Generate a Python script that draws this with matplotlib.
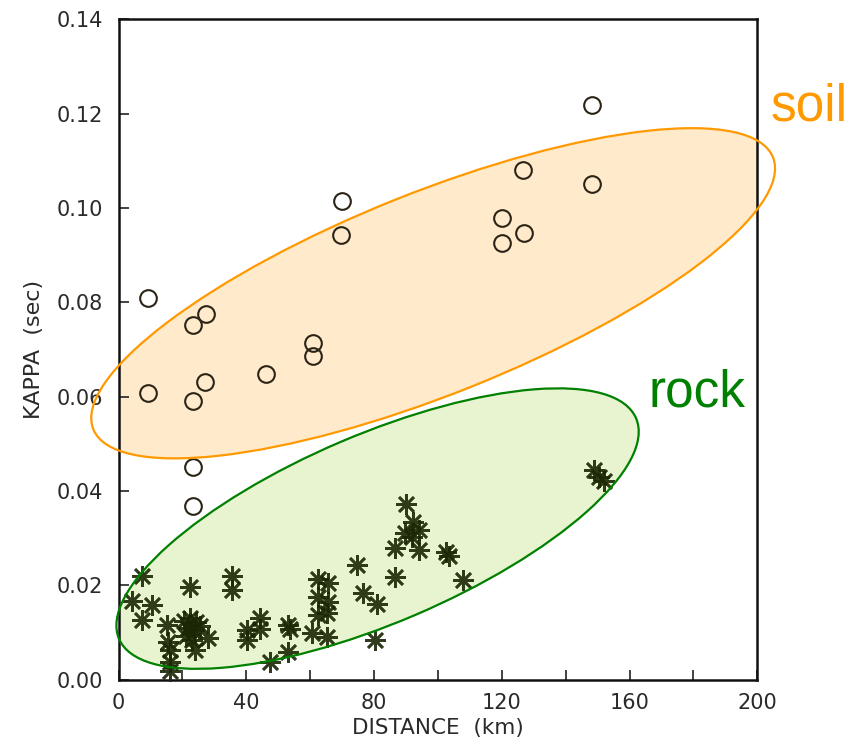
"""
kappa vs distance, soil and rock sites with grouping ellipses
"""
import matplotlib
matplotlib.use("Agg")
import matplotlib.pyplot as plt
from matplotlib.patches import Ellipse
from matplotlib.transforms import Affine2D

# soil sites (open circles)
soil_dist = [9.3, 9.1, 23.4, 27.4, 23.4, 27.2, 23.4, 23.4, 46.1, 60.8, 60.8,
             70.0, 69.7, 120.0, 120.0, 126.7, 127.0, 148.2, 148.2]
soil_kappa = [0.0808, 0.0608, 0.0751, 0.0774, 0.0591, 0.0631, 0.0451, 0.0368,
              0.0647, 0.0714, 0.0685, 0.1014, 0.0942, 0.0979, 0.0926, 0.1081,
              0.0947, 0.1219, 0.1050]

# rock sites (asterisks)
rock_dist = [4.1, 7.3, 10.4, 7.3, 15.1, 15.6, 16.1, 16.1, 16.1, 22.4,
             20.5, 22.4, 24.3, 21.8, 23.6, 25.5, 21.1, 23.0, 24.0, 28.1,
             35.4, 35.4, 40.1, 40.1, 44.3, 44.3, 47.4, 53.0, 53.6, 53.2,
             62.6, 65.7, 62.6, 65.7, 62.6, 65.2, 60.5, 65.2, 74.6, 76.6,
             80.8, 80.3, 86.6, 86.6, 90.0, 92.1, 94.2, 89.7, 91.8, 94.2,
             102.4, 103.6, 107.9, 148.9, 150.4, 152.0]
rock_kappa = [0.0167, 0.0219, 0.0158, 0.0126, 0.0115, 0.0080, 0.0063, 0.0038,
              0.0017, 0.0197, 0.0124, 0.0130, 0.0122, 0.0109, 0.0105, 0.0113,
              0.0092, 0.0084, 0.0063, 0.0087, 0.0219, 0.0190, 0.0105, 0.0084,
              0.0130, 0.0108, 0.0038, 0.0116, 0.0108, 0.0059, 0.0214, 0.0204,
              0.0175, 0.0165, 0.0137, 0.0140, 0.0098, 0.0091, 0.0243, 0.0183,
              0.0161, 0.0084, 0.0278, 0.0218, 0.0373, 0.0334, 0.0317, 0.0310,
              0.0303, 0.0274, 0.0270, 0.0262, 0.0212, 0.0444, 0.0429, 0.0421]

# group outlines: centre (km, sec), semi axes (km on screen), tilt (deg)
soil_group = dict(center=(98.5, 0.0819), a=114.6, b=31.6, angle=21.8)
rock_group = dict(center=(81.1, 0.0320), a=88.0, b=29.5, angle=23.1)

fig = plt.figure(figsize=(8.54, 7.53), dpi=100)
ax_rect = [0.1388, 0.0976, 0.748, 0.8768]
ax = fig.add_axes(ax_rect)
ax.set_xlim(0, 200)
ax.set_ylim(0, 0.14)

# km per unit of kappa on screen, so the ellipses come out undistorted
fw, fh = fig.get_size_inches()
k = (ax_rect[3] * fh / 0.14) / (ax_rect[2] * fw / 200)
screen = Affine2D().scale(1, 1 / k) + ax.transData


def add_group(g, face, edge):
    cx, cy = g["center"]
    e = Ellipse((cx, cy * k), 2 * g["a"], 2 * g["b"], angle=g["angle"],
                transform=screen, facecolor=face, edgecolor="none", zorder=1)
    ax.add_patch(e)
    e2 = Ellipse((cx, cy * k), 2 * g["a"], 2 * g["b"], angle=g["angle"],
                 transform=screen, facecolor="none", edgecolor=edge,
                 linewidth=1.6, zorder=4, clip_on=False)
    ax.add_patch(e2)


add_group(soil_group, (1.0, 0.6, 0.0, 0.2), "#ff9900")
add_group(rock_group, (0.55, 0.77, 0.08, 0.2), "#008000")

ax.plot(soil_dist, soil_kappa, "o", ms=12, mfc="none", mec="#2b2416",
        mew=1.5, zorder=3, clip_on=False)
ax.plot(rock_dist, rock_kappa, marker=(8, 2, 0), ls="none", ms=15,
        mec="#1a2604", mew=1.9, alpha=0.9, zorder=3, clip_on=False)

ax.text(204, 0.1215, "soil", color="#ff9900", fontsize=37,
        family="Liberation Sans", va="center", ha="left", clip_on=False)
ax.text(165.8, 0.0608, "rock", color="#008000", fontsize=37,
        family="Liberation Sans", va="center", ha="left", clip_on=False)

ax.set_xticks(range(0, 201, 20))
ax.set_xticklabels([str(v) if v % 40 == 0 else "" for v in range(0, 201, 20)])
ax.set_yticks([i * 0.02 for i in range(8)])
ax.set_yticklabels([f"{i * 0.02:.2f}" for i in range(8)])
ax.tick_params(direction="in", length=7, width=1.2, labelsize=15,
               labelcolor="#2a2a2a", color="#222222")
ax.tick_params(axis="x", pad=10)
ax.tick_params(axis="y", pad=11)
for s in ax.spines.values():
    s.set_linewidth(1.8)
    s.set_color("#111111")

ax.set_xlabel("DISTANCE  (km)", fontsize=15.5, color="#2a2a2a", labelpad=3)
ax.set_ylabel("KAPPA  (sec)", fontsize=16, color="#2a2a2a", labelpad=9)

fig.savefig("out.png", dpi=100)
